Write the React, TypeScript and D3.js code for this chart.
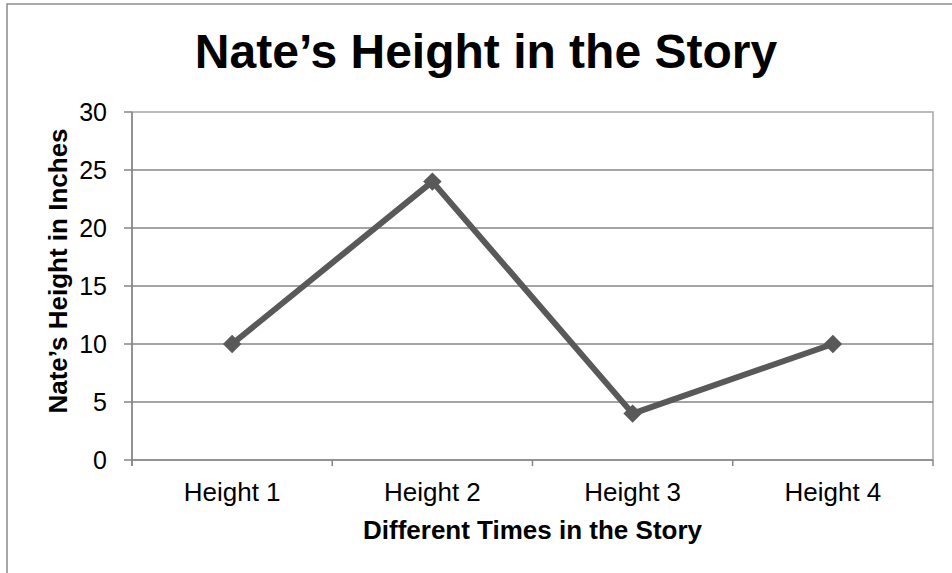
import * as d3 from "d3";

// chart data
const categories = ["Height 1", "Height 2", "Height 3", "Height 4"];
const heights = [10, 24, 4, 10];
const yTicks = [0, 5, 10, 15, 20, 25, 30];

const W = 952;
const H = 573;
const margin = { left: 132, right: 19, top: 112, bottom: 113 };

export default function App() {
  const x = d3
    .scaleBand<string>()
    .domain(categories)
    .range([margin.left, W - margin.right]);
  const y = d3
    .scaleLinear()
    .domain([0, 30])
    .range([H - margin.bottom, margin.top]);

  const cx = (c: string) => (x(c) ?? 0) + x.bandwidth() / 2;
  const line = d3
    .line<number>()
    .x((_, i) => cx(categories[i]))
    .y((d) => y(d));

  const font = "Arial, 'Liberation Sans', sans-serif";
  const plotRight = W - margin.right;
  const plotBottom = y(0);
  const boundaries = [...categories.map((c) => x(c) ?? 0), plotRight];

  return (
    <svg
      width={W}
      height={H}
      style={{ position: "absolute", left: 0, top: 0 }}
      fontFamily={font}
    >
      <rect x={0} y={0} width={W} height={H} fill="#fff" />
      {/* outer chart border, cropped at right and bottom */}
      <rect x={7} y={4} width={W} height={H} fill="none" stroke="#8c8c8c" strokeWidth={1.5} />

      <text x={486} y={68} textAnchor="middle" fontSize={48} fontWeight="bold" fill="#000">
        Nate’s Height in the Story
      </text>

      {/* plot area border */}
      <rect
        x={margin.left}
        y={margin.top}
        width={plotRight - margin.left}
        height={plotBottom - margin.top}
        fill="none"
        stroke="#a6a6a6"
        strokeWidth={1.5}
      />

      {/* gridlines and y ticks */}
      {yTicks.map((t) => (
        <g key={t}>
          {t > 0 && t < 30 && (
            <line x1={margin.left} x2={plotRight} y1={y(t)} y2={y(t)} stroke="#868686" strokeWidth={1.5} />
          )}
          <line x1={margin.left - 8} x2={margin.left} y1={y(t)} y2={y(t)} stroke="#868686" strokeWidth={1.5} />
          <text x={107} y={y(t) + 9} textAnchor="end" fontSize={25} fill="#000">
            {t}
          </text>
        </g>
      ))}

      {/* axes */}
      <line x1={margin.left} x2={margin.left} y1={margin.top} y2={plotBottom + 6} stroke="#868686" strokeWidth={1.5} />
      <line x1={margin.left} x2={plotRight} y1={plotBottom} y2={plotBottom} stroke="#868686" strokeWidth={1.5} />
      {boundaries.map((b, i) => (
        <line key={i} x1={b} x2={b} y1={plotBottom} y2={plotBottom + 6} stroke="#868686" strokeWidth={1.5} />
      ))}

      {categories.map((c) => (
        <text key={c} x={cx(c)} y={501} textAnchor="middle" fontSize={26} fill="#000">
          {c}
        </text>
      ))}

      <text
        x={(margin.left + plotRight) / 2}
        y={539}
        textAnchor="middle"
        fontSize={26}
        fontWeight="bold"
        fill="#000"
      >
        Different Times in the Story
      </text>
      <text
        transform={`translate(67,271) rotate(-90)`}
        textAnchor="middle"
        fontSize={26}
        fontWeight="bold"
        fill="#000"
      >
        Nate’s Height in Inches
      </text>

      <path d={line(heights) ?? ""} fill="none" stroke="#595959" strokeWidth={6} strokeLinejoin="round" />
      {heights.map((v, i) => (
        <path
          key={i}
          d={d3.symbol(d3.symbolSquare, 170)() ?? ""}
          transform={`translate(${cx(categories[i])},${y(v)}) rotate(45)`}
          fill="#595959"
        />
      ))}
    </svg>
  );
}
